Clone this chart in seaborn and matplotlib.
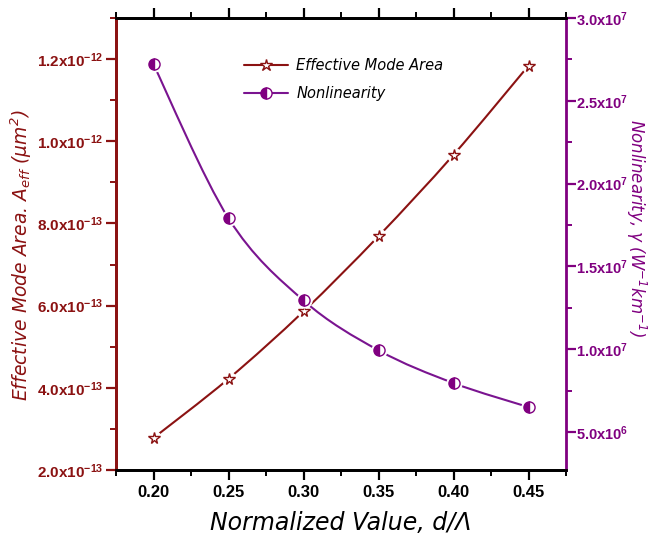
import numpy as np
import matplotlib
matplotlib.use("Agg")
import matplotlib.pyplot as plt
import seaborn as sns
import pandas as pd
from matplotlib.path import Path
from matplotlib.patches import PathPatch
from matplotlib.lines import Line2D
from matplotlib.ticker import AutoMinorLocator, FuncFormatter

# Normalized hole size d/Lambda
d_over_lambda = [0.20, 0.25, 0.30, 0.35, 0.40, 0.45]
# Effective mode area (um^2)
eff_area = [2.78e-13, 4.22e-13, 5.86e-13, 7.69e-13, 9.67e-13, 1.184e-12]
# Nonlinear coefficient gamma (W^-1 km^-1)
nonlinearity = [2.72e7, 1.79e7, 1.294e7, 9.93e6, 7.95e6, 6.5e6]

x_ticks = [0.20, 0.25, 0.30, 0.35, 0.40, 0.45]
area_ticks = [2.0e-13, 4.0e-13, 6.0e-13, 8.0e-13, 1.0e-12, 1.2e-12]
gamma_ticks = [5.0e6, 1.0e7, 1.5e7, 2.0e7, 2.5e7, 3.0e7]

RED = "#8B1212"
PURPLE = "#800080"
LINE_PURPLE = "#7A1490"

sns.set_theme(style="white")
plt.rcParams["font.family"] = ["DejaVu Sans"]
plt.rcParams["mathtext.default"] = "regular"
plt.rcParams["text.color"] = "black"

df = pd.DataFrame({"d": d_over_lambda, "area": eff_area, "gamma": nonlinearity})

fig = plt.figure(figsize=(6.48, 5.39), dpi=100)
ax = fig.add_axes([116 / 648, 1 - 470 / 539, 450 / 648, 452 / 539])
ax2 = ax.twinx()


def smooth_path(xs, ys):
    """Catmull-Rom spline through the points, as cubic Bezier segments."""
    pts = np.column_stack([xs, ys]).astype(float)
    n = len(pts)
    verts = [pts[0]]
    codes = [Path.MOVETO]
    for i in range(n - 1):
        p0 = pts[i - 1] if i > 0 else pts[i]
        p1 = pts[i]
        p2 = pts[i + 1]
        p3 = pts[i + 2] if i + 2 < n else pts[i + 1]
        c1 = p1 + (p2 - p0) / 6.0
        c2 = p2 - (p3 - p1) / 6.0
        verts += [c1, c2, p2]
        codes += [Path.CURVE4] * 3
    return Path(verts, codes)


# curves
ax.add_patch(PathPatch(smooth_path(df["d"], df["area"]), fill=False,
                       edgecolor=RED, lw=1.5, zorder=2))
ax2.add_patch(PathPatch(smooth_path(df["d"], df["gamma"]), fill=False,
                        edgecolor=LINE_PURPLE, lw=1.5, zorder=2))

# white halo under each marker to leave a small gap in the line
sns.lineplot(data=df, x="d", y="area", ax=ax, linestyle="", marker="o",
             markersize=10, markerfacecolor="white", markeredgecolor="white",
             zorder=3)
sns.lineplot(data=df, x="d", y="gamma", ax=ax2, linestyle="", marker="o",
             markersize=11, markerfacecolor="white", markeredgecolor="white",
             zorder=3)

# markers
sns.lineplot(data=df, x="d", y="area", ax=ax, linestyle="", marker="*",
             markersize=8.5, markerfacecolor="white", markeredgecolor=RED,
             markeredgewidth=1.0, zorder=4)
sns.lineplot(data=df, x="d", y="gamma", ax=ax2, linestyle="", marker="o",
             markersize=8, fillstyle="left", markerfacecolor=PURPLE,
             markerfacecoloralt="white", markeredgecolor=PURPLE,
             markeredgewidth=1.0, zorder=4)

ax.set_xlim(0.175, 0.475)
ax.set_ylim(2.0e-13, 1.3e-12)
ax2.set_ylim(2.7e6, 3.0e7)


def sci_label(v, pos):
    if v <= 0:
        return ""
    e = int(np.floor(np.log10(v) + 1e-9))
    m = v / 10 ** e
    return f"{m:.1f}x10$^{{{e}}}$"


ax.set_xticks(x_ticks)
ax.xaxis.set_major_formatter(FuncFormatter(lambda v, p: f"{v:.2f}"))
ax.xaxis.set_minor_locator(AutoMinorLocator(2))
ax.set_yticks(area_ticks)
ax.yaxis.set_minor_locator(AutoMinorLocator(2))
ax.yaxis.set_major_formatter(FuncFormatter(sci_label))
ax2.set_yticks(gamma_ticks)
ax2.yaxis.set_minor_locator(AutoMinorLocator(2))
ax2.yaxis.set_major_formatter(FuncFormatter(sci_label))
ax.set_ylim(2.0e-13, 1.3e-12)
ax2.set_ylim(2.7e6, 3.0e7)

for a in (ax, ax2):
    for sp in a.spines.values():
        sp.set_linewidth(2.0)
        sp.set_color("black")
ax2.spines["left"].set_color(RED)
ax2.spines["right"].set_color(PURPLE)
ax.spines["left"].set_color(RED)
ax.spines["right"].set_visible(False)

ax.tick_params(axis="x", which="major", direction="out", length=7, width=1.6,
               color="black", top=True, bottom=True, labelsize=12,
               labelcolor="black", pad=4)
ax.tick_params(axis="x", which="minor", direction="out", length=4, width=1.4,
               color="black", top=True, bottom=True)
ax.tick_params(axis="y", which="major", direction="out", length=7, width=1.6,
               color=RED, labelsize=11, labelcolor=RED, pad=2)
ax.tick_params(axis="y", which="minor", direction="out", length=4, width=1.4,
               color=RED)
ax2.tick_params(axis="y", which="major", direction="out", length=7, width=1.6,
                color=PURPLE, labelsize=10.5, labelcolor=PURPLE, pad=0)
ax2.tick_params(axis="y", which="minor", direction="out", length=4, width=1.4,
                color=PURPLE)

for lab in ax.get_xticklabels() + ax.get_yticklabels() + ax2.get_yticklabels():
    lab.set_fontfamily(["Liberation Sans Narrow", "Liberation Sans"])
    lab.set_fontweight("bold")

ax.set_xlabel("Normalized Value, d/Λ", fontsize=17, style="italic",
              color="black")
ax.xaxis.set_label_coords(0.5, -0.09)
ax.set_ylabel("Effective Mode Area. A$_{eff}$ (μm$^{2}$)", fontsize=13.5,
              style="italic", color=RED, va="center")
ax.yaxis.set_label_coords(-0.21, 0.475)
ax2.set_ylabel("Nonlinearity, γ (W$^{-1}$km$^{-1}$)", fontsize=12,
               style="italic", color=PURPLE, rotation=-90, va="center")
ax2.yaxis.set_label_coords(1.155, 0.535)

handles = [
    Line2D([], [], color=RED, lw=1.5, marker="*", markersize=9,
           markerfacecolor="white", markeredgecolor=RED),
    Line2D([], [], color=LINE_PURPLE, lw=1.5, marker="o", markersize=8,
           fillstyle="left", markerfacecolor=PURPLE,
           markerfacecoloralt="white", markeredgecolor=PURPLE),
]
ax.legend(handles, ["Effective Mode Area", "Nonlinearity"],
          loc="upper left", bbox_to_anchor=(0.255, 0.94), frameon=False,
          prop=dict(style="italic", size=10.5), labelcolor="black",
          handlelength=3.0, handletextpad=0.6, labelspacing=0.85)

fig.savefig("out.png", dpi=100)
